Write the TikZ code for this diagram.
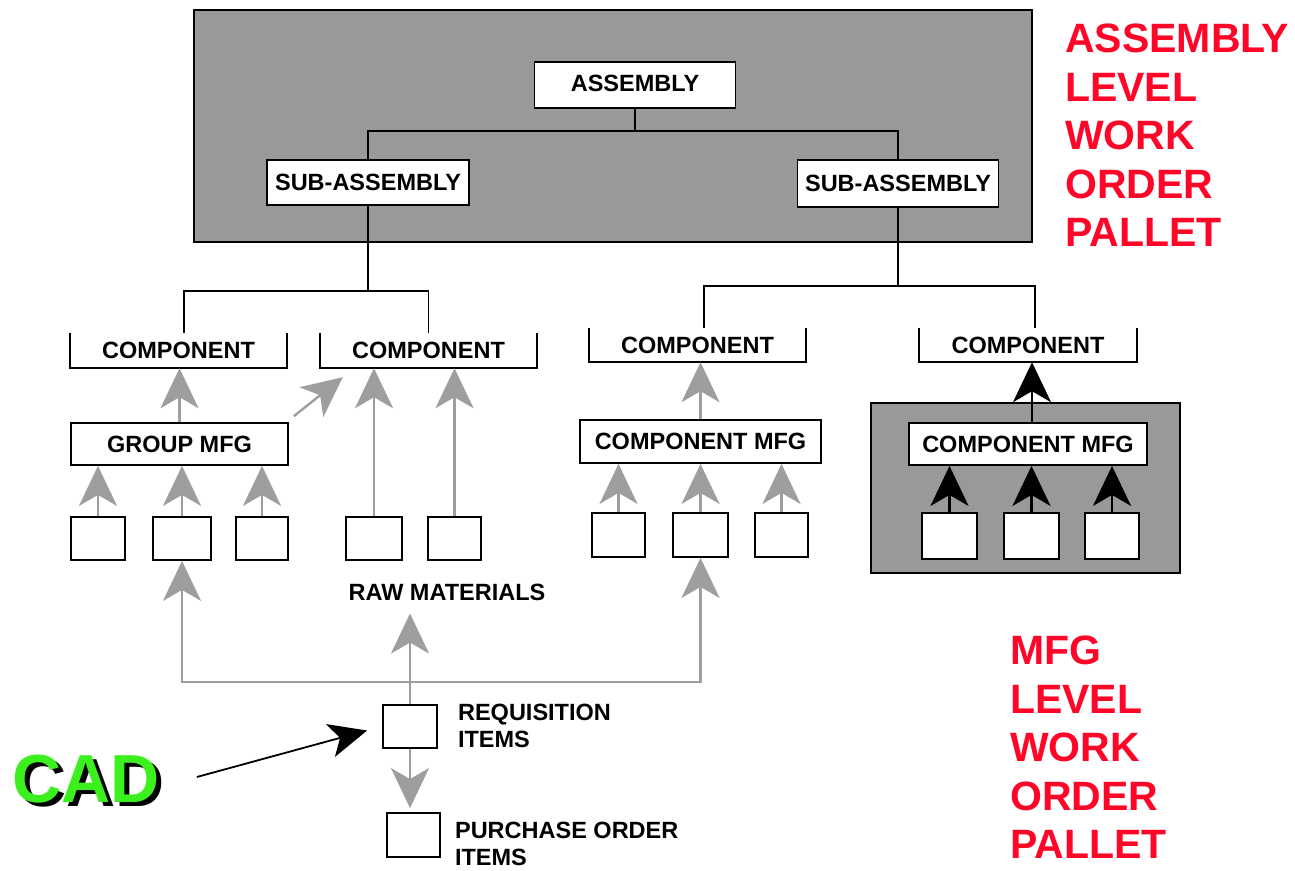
\documentclass[tikz,border=0pt]{standalone}
\usepackage{fontspec}
\setmainfont{Liberation Sans}
\usetikzlibrary{arrows.meta,calc}
\definecolor{panel}{RGB}{153,153,153}
\definecolor{arrowgray}{RGB}{158,158,158}
\definecolor{cadgreen}{RGB}{60,240,30}
\definecolor{lvlred}{RGB}{255,5,40}
\newcommand\lbl{\fontsize{23.5}{27}\selectfont\bfseries}
\newcommand\redlbl{\fontsize{41}{48.5}\selectfont\bfseries}
\newcommand\cadfont{\fontsize{68}{68}\selectfont\bfseries}
\tikzset{
  box/.style={draw=black, line width=1.8pt, fill=white, inner sep=0pt, font=\lbl},
  bracketnode/.style={inner sep=0pt, font=\lbl},
  conn/.style={draw=black, line width=1.8pt},
  bline/.style={draw=black, line width=1.8pt},
  panelbox/.style={draw=black, line width=1.8pt, fill=panel},
  gline/.style={draw=arrowgray, line width=2.4pt},
  garrow/.style={draw=arrowgray, line width=2.4pt, -{Stealth[length=40pt,width=38pt,inset=11pt,fill=arrowgray]}},
  karrow/.style={draw=black, line width=2.4pt, -{Stealth[length=40pt,width=38pt,inset=11pt,fill=black]}},
  cadarrow/.style={draw=black, line width=1.8pt, -{Stealth[length=38pt,width=34pt,inset=10pt,fill=black]}},
  redtext/.style={text=lvlred, font=\redlbl, align=left, inner sep=0pt, anchor=north west},
  sidetext/.style={font=\lbl, align=left, inner sep=0pt, anchor=north west}
}
\begin{document}
\begin{tikzpicture}[x=1pt,y=-1pt]
\useasboundingbox (0,0) rectangle (1295,870);

% top panel
\path[panelbox] (194,10) rectangle (1032,242);
\node[box, minimum width=201, minimum height=46] (asm) at (635,85) {\raisebox{3pt}{ASSEMBLY}};
\node[box, minimum width=202, minimum height=45] (subL) at (368,182.5) {SUB-ASSEMBLY};
\node[box, minimum width=201, minimum height=47] (subR) at (898,183.5) {SUB-ASSEMBLY};

\coordinate (jA) at ($(asm.south)+(0,22)$);
\draw[conn] (asm.south) -- (jA);
\draw[conn] (subL.north) |- (jA) -| (subR.north);

% component brackets
\node[bracketnode, minimum width=217, minimum height=35] (C1) at (178.5,350.5) {COMPONENT};
\node[bracketnode, minimum width=217, minimum height=35] (C2) at (428.5,350.5) {COMPONENT};
\node[bracketnode, minimum width=217, minimum height=34] (C3) at (697.5,345) {COMPONENT};
\node[bracketnode, minimum width=218, minimum height=34] (C4) at (1028,345) {COMPONENT};
\foreach \c in {C1,C2,C3,C4}
  \draw[bline] (\c.north west) |- (\c.south east) -- (\c.north east);

\coordinate (jB) at ($(subL.south)+(0,85)$);
\draw[conn] (subL.south) -- (jB);
\draw[conn] ($(C1.north)+(5.5,0)$) |- (jB) -| (C2.north);
\coordinate (jC) at ($(subR.south)+(0,78)$);
\draw[conn] (subR.south) -- (jC);
\draw[conn] ($(C3.north)+(6.5,0)$) |- (jC) -| ($(C4.north)+(7,0)$);

% right lower panel
\path[panelbox] (871,403) rectangle (1180,573);

% MFG nodes
\node[box, minimum width=217, minimum height=42] (GM) at (179.5,444) {GROUP MFG};
\node[box, minimum width=241, minimum height=43] (CM1) at (700.5,441.5) {COMPONENT MFG};
\node[box, minimum width=238, minimum height=42] (CM2) at (1028,444) {COMPONENT MFG};

% small boxes
\node[box, minimum width=54, minimum height=43] (b1) at (98,538.5) {};
\node[box, minimum width=58, minimum height=43] (b2) at (182,538.5) {};
\node[box, minimum width=52, minimum height=43] (b3) at (262,538.5) {};
\node[box, minimum width=56, minimum height=43] (b4) at (374,538.5) {};
\node[box, minimum width=53, minimum height=43] (b5) at (454.5,538.5) {};
\node[box, minimum width=53, minimum height=44] (c1) at (618.5,535) {};
\node[box, minimum width=55, minimum height=44] (c2) at (700.5,535) {};
\node[box, minimum width=53, minimum height=44] (c3) at (781.5,535) {};
\node[box, minimum width=55, minimum height=46] (d1) at (949.5,536) {};
\node[box, minimum width=55, minimum height=46] (d2) at (1031.5,536) {};
\node[box, minimum width=54, minimum height=46] (d3) at (1112,536) {};

% arrows upward
\draw[garrow] (GM.north) -- (GM.north |- C1.south);
\draw[garrow] ($(GM.north east)+(5,-6)$) -- ($(C2.south west)+(23,9)$);
\foreach \b in {b1,b2,b3}
  \draw[garrow] (\b.north) -- (\b.north |- GM.south);
\foreach \b in {b4,b5}
  \draw[garrow] (\b.north) -- (\b.north |- C2.south);
\foreach \b in {c1,c2,c3}
  \draw[garrow] (\b.north) -- (\b.north |- CM1.south);
\draw[garrow] (CM1.north) -- (CM1.north |- C3.south);
\foreach \b in {d1,d2,d3}
  \draw[karrow] (\b.north) -- (\b.north |- CM2.south);
\draw[karrow] ($(CM2.north)+(4,0)$) -- ($(CM2.north |- C4.south)+(4,0)$);

% raw materials and requisition
\node[font=\lbl, inner sep=0pt] (RAW) at (447,592) {RAW MATERIALS};
\node[box, minimum width=54, minimum height=43] (R) at (410,726.5) {};
\node[box, minimum width=53, minimum height=44] (PO) at (413.5,835) {};
\node[sidetext] (Rt) at ($(R.north east)+(20,0)$) {REQUISITION\\ITEMS};
\node[sidetext] (POt) at ($(PO.north east)+(14,10)$) {PURCHASE ORDER\\ITEMS};

\coordinate (jD) at ($(R.north)+(0,-22)$);
\draw[gline] (R.north) -- (jD);
\draw[garrow] (jD) -| (b2.south);
\draw[garrow] (jD) -| (c2.south);
\draw[garrow] (jD) -- ($(RAW.south -| R.north)+(0,13)$);
\draw[garrow, shorten >=4pt] (R.south) -- (R.south |- PO.north);

% CAD with drop shadow
\node[font=\cadfont, inner sep=0pt] (cad) at (86,781)
  {\rlap{\hspace{5pt}\raisebox{-4pt}{\textcolor{black}{CAD}}}\textcolor{cadgreen}{CAD}};
\draw[cadarrow] ($(cad.east)+(37,-4)$) -- ($(R.west)+(-15,4)$);

% level labels
\node[redtext] (asmlevel) at (1065,24) {ASSEMBLY\\LEVEL\\WORK\\ORDER\\PALLET};
\node[redtext] (mfglevel) at (1010,636) {MFG\\LEVEL\\WORK\\ORDER\\PALLET};
\end{tikzpicture}
\end{document}
